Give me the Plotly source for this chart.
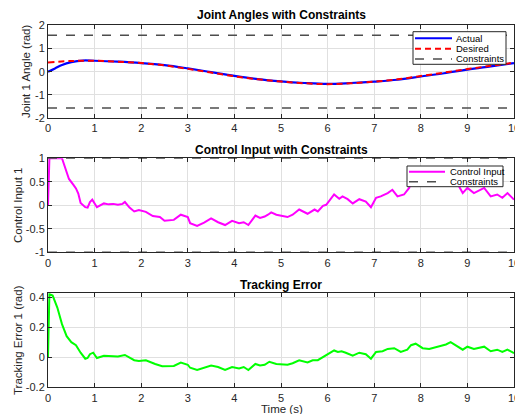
import plotly.graph_objects as go

# ---------------- data ----------------
t_des = [0, 0.5, 1, 1.5, 2, 2.5, 3, 3.5, 4, 4.5, 5, 5.5, 6, 6.5, 7, 7.5, 8, 8.5, 9, 9.5, 10]
q_des = [0.40, 0.46, 0.47, 0.43, 0.37, 0.27, 0.12, -0.04, -0.20, -0.33, -0.43, -0.50, -0.54, -0.50, -0.43, -0.33, -0.19, -0.04, 0.11, 0.25, 0.39]

t_act = [0, 0.15, 0.3, 0.5, 0.75, 1, 1.5, 2, 2.5, 3, 3.5, 4, 4.5, 5, 5.5, 6, 6.5, 7, 7.5, 8, 8.5, 9, 9.5, 10]
q_act = [0.0, 0.14, 0.29, 0.41, 0.48, 0.47, 0.43, 0.37, 0.28, 0.14, -0.02, -0.18, -0.32, -0.42, -0.49, -0.53, -0.49, -0.43, -0.35, -0.21, -0.07, 0.09, 0.23, 0.37]

q_limits = [1.5708, -1.5708]

t_u = [0, 0.03, 0.3, 0.35, 0.45, 0.55, 0.6, 0.65, 0.7, 0.8, 0.85, 0.9, 0.95, 1.05, 1.2, 1.3, 1.4,
       1.5, 1.6, 1.65, 1.75, 1.85, 1.95, 2.1, 2.25, 2.4, 2.5, 2.7, 2.85, 3.0, 3.05, 3.2, 3.35,
       3.5, 3.65, 3.8, 3.95, 4.1, 4.2, 4.3, 4.45, 4.55, 4.65, 4.72, 4.79, 4.9, 5.14, 5.25,
       5.39, 5.57, 5.72, 5.79, 5.9, 5.97, 6.14, 6.25, 6.32, 6.43, 6.54, 6.68, 6.82, 6.93,
       7.04, 7.14, 7.29, 7.39, 7.5, 7.64, 7.75, 7.82, 7.93, 8.07, 8.22, 8.32, 8.43, 8.57,
       8.72, 8.9, 9.0, 9.14, 9.36, 9.5, 9.64, 9.75, 9.86, 10.0]
u = [0.0, 1.0, 1.0, 0.85, 0.56, 0.43, 0.36, 0.25, 0.05, -0.04, -0.05, 0.07, 0.12, -0.04, 0.04, 0.02, 0.03,
     0.01, 0.03, 0.07, -0.05, -0.13, -0.10, -0.14, -0.23, -0.25, -0.33, -0.31, -0.20, -0.25, -0.38, -0.44, -0.37,
     -0.28, -0.36, -0.42, -0.33, -0.38, -0.36, -0.42, -0.22, -0.27, -0.24, -0.20, -0.15, -0.20, -0.25, -0.20,
     -0.09, -0.18, -0.09, -0.13, -0.01, 0.01, 0.23, 0.14, 0.19, 0.13, 0.04, 0.13, 0.08, -0.04,
     0.16, 0.19, 0.26, 0.33, 0.19, 0.23, 0.37, 0.57, 0.51, 0.44, 0.42, 0.47, 0.51, 0.65,
     0.58, 0.26, 0.37, 0.26, 0.37, 0.19, 0.23, 0.16, 0.26, 0.12]
u_limits = [1.0, -1.0]

t_e = [0, 0.03, 0.1, 0.2, 0.3, 0.4, 0.5, 0.6, 0.7, 0.8, 0.85, 0.9, 0.97, 1.05, 1.2, 1.35, 1.5,
       1.65, 1.75, 1.85, 1.95, 2.1, 2.3, 2.45, 2.7, 2.85, 3.0, 3.05, 3.2, 3.35, 3.5, 3.65,
       3.8, 3.95, 4.1, 4.2, 4.3, 4.45, 4.55, 4.65, 4.75, 4.9, 5.14, 5.25, 5.39, 5.57, 5.68,
       5.79, 5.93, 6.14, 6.22, 6.3, 6.39, 6.54, 6.68, 6.82, 6.93, 7.04, 7.18, 7.29, 7.43,
       7.57, 7.71, 7.79, 7.89, 8.04, 8.18, 8.29, 8.39, 8.54, 8.64, 8.75, 8.9, 9.0, 9.14,
       9.36, 9.5, 9.64, 9.75, 9.86, 10.0]
e = [0.0, 0.42, 0.41, 0.33, 0.22, 0.14, 0.10, 0.08, 0.03, -0.01, -0.005, 0.02, 0.03, -0.005, 0.01, 0.005, 0.005,
     0.015, -0.005, -0.02, -0.025, -0.02, -0.045, -0.06, -0.058, -0.035, -0.05, -0.07, -0.085, -0.07, -0.055, -0.065,
     -0.085, -0.065, -0.075, -0.065, -0.085, -0.045, -0.055, -0.05, -0.03, -0.045, -0.05, -0.04, -0.02, -0.035, -0.02,
     -0.02, 0.005, 0.045, 0.035, 0.04, 0.03, 0.01, 0.03, 0.02, -0.01, 0.035, 0.04, 0.055, 0.06,
     0.035, 0.05, 0.08, 0.09, 0.06, 0.055, 0.065, 0.07, 0.085, 0.10, 0.08, 0.05, 0.07, 0.055,
     0.07, 0.04, 0.05, 0.035, 0.05, 0.027]

x_range = [0, 10]
x_ticks = [0, 1, 2, 3, 4, 5, 6, 7, 8, 9, 10]
y1_ticks = [-2, -1, 0, 1, 2]
y1_labels = ["-2", "-1", "0", "1", "2"]
y2_ticks = [-1, -0.5, 0, 0.5, 1]
y2_labels = ["-1", "-0.5", "0", "0.5", "1"]
y3_ticks = [-0.2, 0, 0.2, 0.4]
y3_labels = ["-0.2", "0", "0.2", "0.4"]

# ---------------- figure ----------------
W, H = 515, 414
ML, MR = 48, 1
PW = W - ML - MR

def px(x):
    return (x - ML) / PW

def py(y):
    return 1 - y / H

FONT = "Liberation Sans, Arial, sans-serif"
AX = "#262626"
GRID = "#e0e0e0"
CONS = "#4d4d4d"
TICK = 11

fig = go.Figure()

# top plot
fig.add_trace(go.Scatter(x=x_range, y=[q_limits[0]] * 2, mode="lines",
                         line=dict(color=CONS, width=1.5, dash="dash"), xaxis="x", yaxis="y"))
fig.add_trace(go.Scatter(x=x_range, y=[q_limits[1]] * 2, mode="lines",
                         line=dict(color=CONS, width=1.5, dash="dash"), xaxis="x", yaxis="y"))
fig.add_trace(go.Scatter(x=t_act, y=q_act, mode="lines", line=dict(color="#0000ff", width=2.2, shape="spline"),
                         xaxis="x", yaxis="y"))
fig.add_trace(go.Scatter(x=t_des, y=q_des, mode="lines",
                         line=dict(color="#ff0000", width=2, dash="6px,4px", shape="spline"), xaxis="x", yaxis="y"))

# control plot
fig.add_trace(go.Scatter(x=t_u, y=u, mode="lines", line=dict(color="#ff00ff", width=2),
                         xaxis="x2", yaxis="y2"))
fig.add_trace(go.Scatter(x=x_range, y=[u_limits[0]] * 2, mode="lines",
                         line=dict(color=CONS, width=1.5, dash="dash"), xaxis="x2", yaxis="y2"))
fig.add_trace(go.Scatter(x=x_range, y=[u_limits[1]] * 2, mode="lines",
                         line=dict(color=CONS, width=1.5, dash="dash"), xaxis="x2", yaxis="y2"))

# error plot
fig.add_trace(go.Scatter(x=t_e, y=e, mode="lines", line=dict(color="#00ff00", width=2),
                         xaxis="x3", yaxis="y3"))

def xaxis(anchor):
    return dict(domain=[0, 1], range=x_range, tickvals=x_ticks, ticks="inside", ticklen=4,
                tickcolor=AX, showline=True, linecolor=AX, linewidth=1, mirror="ticks",
                showgrid=True, gridcolor=GRID, zeroline=False, anchor=anchor,
                ticklabeloverflow="allow", automargin=False,
                tickfont=dict(family=FONT, size=TICK, color=AX))

def yaxis(anchor, dom, rng, ticks, labels):
    return dict(domain=dom, range=rng, tickvals=ticks, ticktext=labels, ticks="inside", ticklen=4,
                tickcolor=AX, showline=True, linecolor=AX, linewidth=1, mirror="ticks",
                showgrid=True, gridcolor=GRID, zeroline=False, anchor=anchor,
                ticklabeloverflow="allow", automargin=False,
                tickfont=dict(family=FONT, size=TICK, color=AX))

fig.update_layout(
    template="none",
    width=W, height=H, margin=dict(l=ML, r=MR, t=0, b=0, autoexpand=False),
    paper_bgcolor="white", plot_bgcolor="white", showlegend=False,
    xaxis=xaxis("y"), yaxis=yaxis("x", [py(118), py(25.3)], [-2, 2], y1_ticks, y1_labels),
    xaxis2=xaxis("y2"), yaxis2=yaxis("x2", [py(252.3), py(158.3)], [-1, 1], y2_ticks, y2_labels),
    xaxis3=xaxis("y3"), yaxis3=yaxis("x3", [py(387.3), py(293.3)], [-0.2, 0.425], y3_ticks, y3_labels),
)

ann = []
shapes = []

def text(x, y, s, size=11, bold=False, angle=0, xanchor="center", color=AX):
    ann.append(dict(x=px(x), y=py(y), xref="paper", yref="paper", text=("<b>%s</b>" % s) if bold else s,
                    showarrow=False, textangle=angle, xanchor=xanchor, yanchor="middle",
                    font=dict(family=FONT, size=size, color=("#000000" if bold else color))))

text(281, 15, "Joint Angles with Constraints", size=12, bold=True)
text(281, 150, "Control Input with Constraints", size=12, bold=True)
text(281, 285, "Tracking Error", size=12, bold=True)
text(282, 408.5, "Time (s)", size=11.5)
text(25.5, 71.5, "Joint 1 Angle (rad)", size=11.5, angle=-90)
text(17.5, 205.5, "Control Input 1", size=11.5, angle=-90)
text(18, 340, "Tracking Error 1 (rad)", size=11.5, angle=-90)

# legend 1
shapes.append(dict(type="rect", xref="paper", yref="paper", x0=px(413), x1=px(506), y0=py(64.3), y1=py(31.7),
                   line=dict(color=AX, width=1), fillcolor="white", layer="above"))
leg1 = [("Actual", "#0000ff", "solid", 38.3), ("Desired", "#ff0000", "6px,4px", 48.7), ("Constraints", CONS, "dash", 59)]
for name, col, dash, yy in leg1:
    shapes.append(dict(type="line", xref="paper", yref="paper", x0=px(415), x1=px(452), y0=py(yy), y1=py(yy),
                       line=dict(color=col, width=2 if col != CONS else 1.5, dash=dash), layer="above"))
    text(454, yy, name, size=9.5, xanchor="left", color="#000000")

# legend 2
shapes.append(dict(type="rect", xref="paper", yref="paper", x0=px(407), x1=px(503), y0=py(186.7), y1=py(166),
                   line=dict(color=AX, width=1), fillcolor="white", layer="above"))
leg2 = [("Control Input", "#ff00ff", "solid", 171.7), ("Constraints", CONS, "dash", 181.7)]
for name, col, dash, yy in leg2:
    shapes.append(dict(type="line", xref="paper", yref="paper", x0=px(409), x1=px(445), y0=py(yy), y1=py(yy),
                       line=dict(color=col, width=2 if col != CONS else 1.5, dash=dash), layer="above"))
    text(448, yy, name, size=9.5, xanchor="left", color="#000000")

fig.update_layout(annotations=ann, shapes=shapes)
fig.write_html("out.html")
